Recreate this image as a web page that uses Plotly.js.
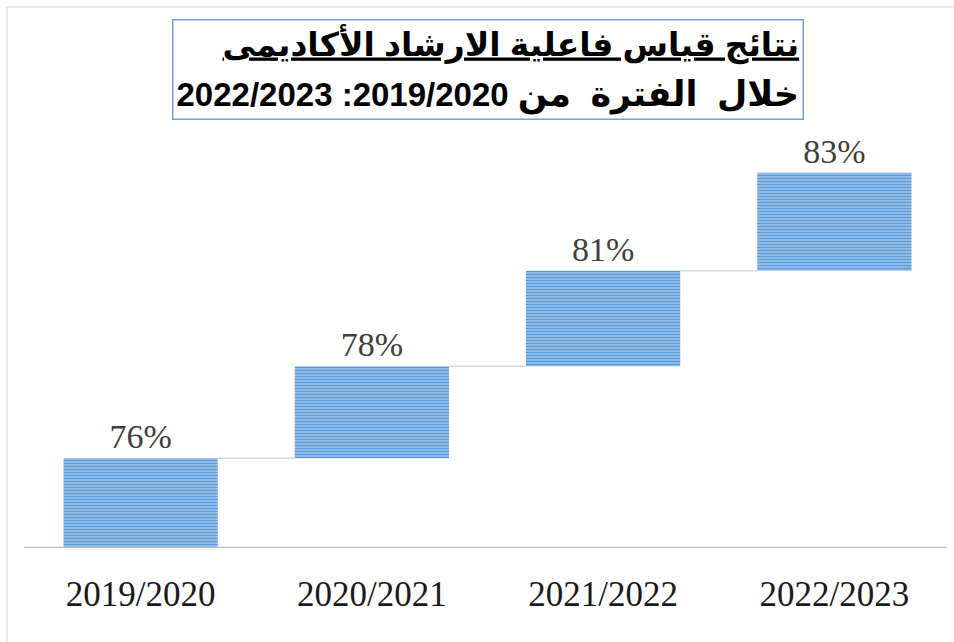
<!DOCTYPE html>
<html>
<head>
<meta charset="utf-8">
<script src="https://cdn.plot.ly/plotly-3.0.1.min.js"></script>
<style>
  html, body { margin: 0; padding: 0; background: #ffffff; }
  #chart { width: 954px; height: 642px; }
</style>
</head>
<body>
<div id="chart"></div>
<script>
// ---- data ----
const categories = ['2019/2020', '2020/2021', '2021/2022', '2022/2023'];
const values = [76, 78, 81, 83];
const valueLabels = ['76%', '78%', '81%', '83%'];
const titleLine1 = 'نتائج قياس فاعلية الارشاد الأكاديمى';
const titlePeriodWords = ['خلال', 'الفترة', 'من'];
const titleFrom = '2019/2020';
const titleTo = '2022/2023';

// cumulative bases (waterfall-style floating bars)
const bases = [];
let running = 0;
values.forEach(v => { bases.push(running); running += v; });
const tops = bases.map((b, i) => b + values[i]);

const barWidth = 0.667;

const connectors = [];
for (let i = 0; i < categories.length - 1; i++) {
  connectors.push({
    type: 'line', xref: 'x', yref: 'y',
    x0: i + barWidth / 2, x1: i + 1 - barWidth / 2,
    y0: tops[i], y1: tops[i],
    line: { color: '#d9d9d9', width: 1.5 }
  });
}

const trace = {
  type: 'bar',
  x: categories,
  y: values,
  base: bases,
  width: barWidth,
  text: valueLabels,
  textposition: 'outside',
  cliponaxis: false,
  textfont: { family: 'Liberation Serif, Times New Roman, serif', size: 34, color: '#404040' },
  marker: {
    color: '#5b9bd5',
    line: { width: 0 },
    pattern: { shape: '-', size: 3, solidity: 0.6, fgcolor: '#5a9ad8', bgcolor: '#b4d0ef', fillmode: 'replace' }
  },
  hoverinfo: 'skip'
};

const frame = [
  { type: 'line', xref: 'paper', yref: 'paper', x0: -0.0195, x1: -0.0195, y0: -0.3, y1: 1.264,
    line: { color: '#e3e3e3', width: 1.5 } },
  { type: 'line', xref: 'paper', yref: 'paper', x0: -0.0195, x1: 1.1, y0: 1.264, y1: 1.264,
    line: { color: '#e3e3e3', width: 1.5 } },
  { type: 'line', xref: 'paper', yref: 'y', x0: -0.001, x1: 0.997, y0: 0, y1: 0,
    line: { color: '#bfbfbf', width: 2.5 } }
];

const LRM = '\u200E', NB = '\u00A0';
const span = (s, px) => '<span style="font-size:' + px + 'px">' + s + '</span>';
const titleText =
  '<u><b>' + span(titleLine1, 33) + '</b></u><br>' +
  '<b>' + span(LRM + titleTo + LRM + ' ' + LRM + ':' + LRM + titleFrom + LRM + ' ', 33) +
  span(titlePeriodWords.join(NB + NB), 35) + '</b>';

const layout = {
  width: 954, height: 642,
  margin: { l: 25, r: 4, t: 120, b: 94 },
  paper_bgcolor: '#ffffff', plot_bgcolor: '#ffffff',
  showlegend: false,
  xaxis: {
    type: 'category',
    showgrid: false, zeroline: false, showline: false,
    ticks: '', ticklabelstandoff: 22,
    tickfont: { family: 'Liberation Serif, Times New Roman, serif', size: 35, color: '#1a1a1a' }
  },
  yaxis: { visible: false, range: [0, 362.7], fixedrange: true },
  shapes: frame.concat(connectors),
  annotations: [{
    xref: 'paper', yref: 'paper', x: 0.501, y: 1.119,
    xanchor: 'center', yanchor: 'middle', showarrow: false, align: 'right',
    text: titleText,
    font: { family: 'Liberation Sans, Arial, DejaVu Sans, sans-serif', size: 39, color: '#000000' },
    bordercolor: '#6fa3d8', borderwidth: 1.5, borderpad: 3, bgcolor: '#ffffff'
  }]
};

Plotly.newPlot('chart', [trace], layout, { displayModeBar: false, staticPlot: true });
</script>
</body>
</html>
